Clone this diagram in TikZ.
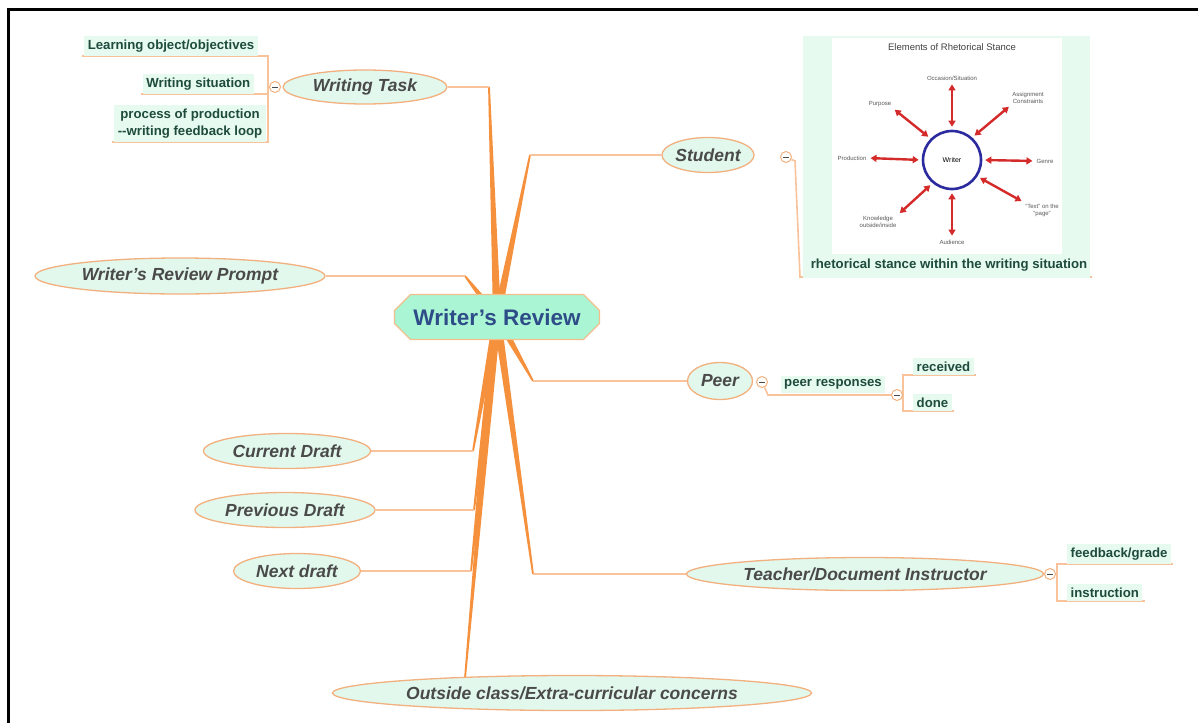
\documentclass[tikz,border=0pt]{standalone}
\usepackage{fontspec}
\setmainfont{Liberation Sans}
\usetikzlibrary{shapes.geometric,shapes.misc,calc,backgrounds,arrows.meta}
\definecolor{branchcol}{HTML}{F5913D}
\definecolor{twigcol}{HTML}{F8C29A}
\definecolor{topicbg}{HTML}{E2F8EC}
\definecolor{topicline}{HTML}{F2B07E}
\definecolor{topictext}{HTML}{4A4A4A}
\definecolor{leafbg}{HTML}{E6FAF0}
\definecolor{leaftext}{HTML}{1E4B3C}
\definecolor{rootbg}{HTML}{AAF5D3}
\definecolor{rootline}{HTML}{F2BE8C}
\definecolor{roottext}{HTML}{2E4C88}
\definecolor{rsred}{HTML}{D42A2A}
\definecolor{rsblue}{HTML}{2B2B9E}
\tikzset{
  topic/.style = {ellipse, draw=topicline, line width=1.3pt, fill=topicbg, text=topictext,
    inner sep=0pt, font=\bfseries\itshape\fontsize{17.5}{20}\selectfont},
  leaf/.style = {fill=leafbg, text=leaftext, inner sep=3.5pt,
    font=\bfseries\fontsize{13.2}{17}\selectfont},
  fold/.style = {circle, draw=topicline, line width=1pt, fill=white, minimum size=11pt, inner sep=0pt,
    path picture={\draw[topictext, line width=0.8pt] ([xshift=-3pt]path picture bounding box.center)
      -- ([xshift=3pt]path picture bounding box.center);}},
  twig/.style = {draw=twigcol, line width=1.6pt},
  branch/.style = {fill=branchcol},
  rstext/.style = {text=black!65, inner sep=1pt, align=center, font=\fontsize{6}{7}\selectfont},
  rsarrow/.style = {draw=rsred, line width=2.4pt, shorten <=3pt, shorten >=3pt,
    {Triangle[length=6pt,width=7pt]}-{Triangle[length=6pt,width=7pt]}}
}
\newcommand\mmbranch[2]{\fill[branch] ($(#1)!4pt!90:(#2)$) -- ($(#2)!0.9pt!-90:(#1)$)
  -- ($(#2)!0.9pt!90:(#1)$) -- ($(#1)!4pt!-90:(#2)$) -- cycle;}
\begin{document}
\begin{tikzpicture}[x=1pt, y=-1pt]
\useasboundingbox (0,0) rectangle (1198,723);
\draw[line width=3pt] (8,723) -- (8,9.5) -- (1198,9.5);

\node[chamfered rectangle, chamfered rectangle xsep=8pt, chamfered rectangle ysep=8pt,
  draw=rootline, line width=1.3pt, fill=rootbg, text=roottext, minimum width=205pt, minimum height=45pt,
  inner sep=0pt, font=\bfseries\fontsize{22.5}{25}\selectfont] (root) at (497,317) {Writer's Review};

\node[topic, minimum width=164pt, minimum height=34pt] (wtask) at (365,87) {Writing Task};
\node[topic, minimum width=80pt, minimum height=35pt] (student) at (708,155) {Student};
\node[topic, minimum width=290pt, minimum height=36pt] (prompt) at (180,276) {Writer's Review Prompt};
\node[topic, minimum width=65pt, minimum height=37pt] (peer) at (720,381) {Peer};
\node[topic, minimum width=167pt, minimum height=35pt] (current) at (287,451) {Current Draft};
\node[topic, minimum width=180pt, minimum height=35pt] (previous) at (285,510) {Previous Draft};
\node[topic, minimum width=127pt, minimum height=35pt] (next) at (297,571) {Next draft};
\node[topic, minimum width=357pt, minimum height=33pt] (teacher) at (865,574) {Teacher/Document Instructor};
\node[topic, minimum width=479pt, minimum height=35pt] (outside) at (572,693) {Outside class/Extra-curricular concerns};

\coordinate (jWT) at (489,87);
\coordinate (jST) at (530,155);
\coordinate (jPR) at (465,276);
\coordinate (jPE) at (533,381);
\coordinate (jCD) at (473,451);
\coordinate (jPD) at (474,510);
\coordinate (jND) at (471,571);
\coordinate (jTE) at (533,574);
\coordinate (jOC) at (465,678);

% writing task leaves
\node[fold] (fWT) at (275,87) {};
\coordinate (sWT) at (268,87);
\node[leaf, anchor=south east] (lLO) at (258,56) {Learning object/objectives};
\node[leaf, anchor=south east] (lWS) at (254,94) {Writing situation};
\node[leaf, anchor=south east, align=center] (lPP) at (266,142) {process of production\\-{}-writing feedback loop};

% student leaf with rhetorical stance figure
\node[fold] (fST) at (786,157) {};
\fill[leafbg] (803,36) rectangle (1090,278);
\fill[white] (832,38) rectangle (1062,254);
\node[text=black!75, font=\fontsize{9.5}{10}\selectfont] (rstitle) at (952,47) {Elements of Rhetorical Stance};
\node[circle, draw=rsblue, line width=2.6pt, minimum size=58pt, inner sep=0pt,
  font=\fontsize{7}{8}\selectfont] (writer) at (952,160) {Writer};
\node[rstext] (occ) at (952,78) {Occasion/Situation};
\node[rstext] (asg) at (1028,98) {Assignment\\Constraints};
\node[rstext] (gen) at (1045,161) {Genre};
\node[rstext] (txt) at (1042,210) {``Text'' on the\\``page''};
\node[rstext] (aud) at (952,242) {Audience};
\node[rstext] (knw) at (878,222) {Knowledge\\outside/inside};
\node[rstext] (pro) at (852,158) {Production};
\node[rstext] (pur) at (880,104) {Purpose};
\foreach \ang/\tgt in {90/occ.south, 48/asg.south west, 0/gen.west, -33/txt.north west,
  -90/aud.north, -130/knw.north east, 180/pro.east, 135/pur.south east}
  \draw[rsarrow] (writer.\ang) -- (\tgt);
\node[leaf, fill=none] (lRS) at (949,265) {rhetorical stance within the writing situation};

% peer leaves
\node[fold] (fPE) at (762,382) {};
\node[leaf, anchor=south] (lPR) at (833,393) {peer responses};
\node[fold] (fPR) at (897,395) {};
\node[leaf, anchor=south west] (lRE) at (913,375) {received};
\node[leaf, anchor=south west] (lDO) at (913,411) {done};

% teacher leaves
\node[fold] (fTE) at (1050,574) {};
\node[leaf, anchor=south west] (lFG) at (1067,564) {feedback/grade};
\node[leaf, anchor=south west] (lIN) at (1067,601) {instruction};

\begin{scope}[on background layer]
  \foreach \j in {jWT, jST, jPR, jPE, jCD, jPD, jND, jTE, jOC}
    \mmbranch{root.center}{\j}
  \draw[twig] (wtask.east) -- (jWT);
  \draw[twig] (student.west) -- (jST);
  \draw[twig] (prompt.east) -- (jPR);
  \draw[twig] (peer.west) -- (jPE);
  \draw[twig] (current.east) -- (jCD);
  \draw[twig] (previous.east) -- (jPD);
  \draw[twig] (next.east) -- (jND);
  \draw[twig] (teacher.west) -- (jTE);
  \draw[twig] (fWT) -- (sWT);
  \draw[twig] ([xshift=-2pt]lLO.south west) -| (sWT) |- ([xshift=-2pt]lPP.south west);
  \draw[twig] ([xshift=-2pt]lWS.south west) -- (lWS.south west -| sWT);
  \draw[twig] (fST) -- (795,161) -- (800,277) -- (1092,277);
  \draw[twig] (fPE) -- (768,395) -- (fPR);
  \draw[twig] ([xshift=2pt]lRE.south east) -| ([xshift=-10pt]lRE.south west) |- ([xshift=2pt]lDO.south east);
  \draw[twig] ([xshift=-10pt]lRE.south west |- fPR) -- (fPR);
  \draw[twig] ([xshift=2pt]lFG.south east) -| ([xshift=-10pt]lFG.south west) |- ([xshift=2pt]lIN.south east);
  \draw[twig] ([xshift=-10pt]lFG.south west |- fTE) -- (fTE);
\end{scope}
\end{tikzpicture}
\end{document}
